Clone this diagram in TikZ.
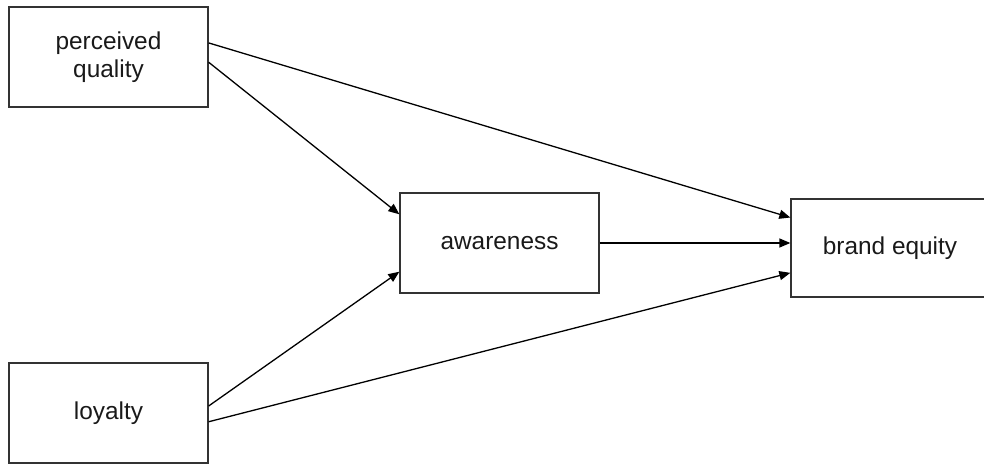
\documentclass[tikz,border=0pt]{standalone}
\usepackage{fontspec}
\setmainfont{Liberation Sans}
\usetikzlibrary{arrows.meta}

\begin{document}
\begin{tikzpicture}[x=0.5pt, y=-0.5pt,
  box/.style={draw=black!80, line width=0.65pt, rectangle, minimum width=99.5pt,
    minimum height=50pt, align=center, text=black!90, font=\fontsize{12.2}{14}\selectfont},
  link/.style={line width=0.65pt, -{Triangle[length=5.5pt, width=4.5pt]}}]
  \useasboundingbox (0,0) rectangle (984,464);
  \node[box] (quality) at (108.5,57) {perceived\\quality};
  \node[box] (awareness) at (499.5,243) {awareness};
  \node[box, minimum width=99pt, minimum height=49pt] (equity) at (890,248) {brand equity};
  \node[box] (loyalty) at (108.5,413) {loyalty};
  \draw[link] (quality.8) -- (equity.163.7);
  \draw[link] (quality.-3.4) -- (awareness.164.8);
  \draw[link] (loyalty.4.6) -- (awareness.196.3);
  \draw[link] (loyalty.-5.2) -- (equity.194.2);
  \draw[link] (awareness.east) -- (awareness.east -| equity.west);
\end{tikzpicture}
\end{document}
